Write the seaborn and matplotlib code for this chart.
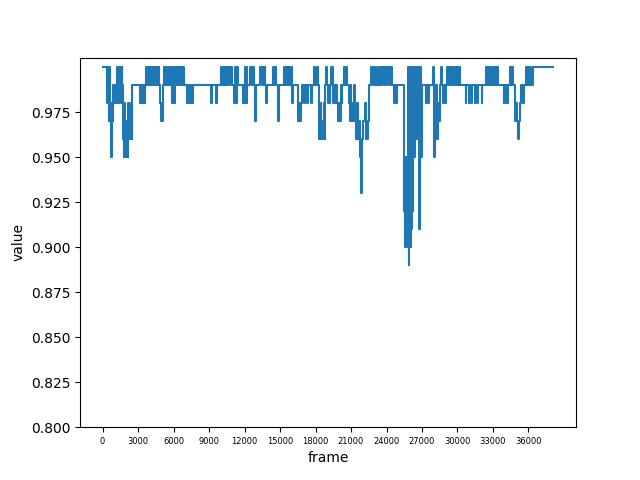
import matplotlib
matplotlib.use("Agg")
import matplotlib.pyplot as plt
import pandas as pd
import seaborn as sns

# change points of the score (step series)
frame = [
    0, 340, 380, 420, 460, 520, 580, 620, 680, 740, 800, 860, 900,
    950, 1010, 1070, 1130, 1190, 1250, 1310, 1370, 1430, 1490, 1550, 1610, 1670,
    1700, 1740, 1790, 1850, 1900, 1950, 2010, 2060, 2120, 2180, 2230, 2290, 2350, 2410, 2470, 2520,
    3200, 3260, 3320, 3380, 3440, 3500, 3560, 3620,
    3660, 3720, 3780, 3840, 3900, 3960, 4020, 4080, 4140, 4200, 4260, 4320, 4380, 4440, 4500, 4560, 4620, 4680, 4740, 4800,
    4880, 4920, 5000, 5060, 5120,
    5200, 5300, 5400, 5480, 5600, 5700, 5800, 5900, 5960, 6040, 6100, 6200, 6280, 6380, 6460, 6560, 6640, 6740, 6820, 6900,
    7150, 7220, 7290, 7360, 7430, 7500, 7560, 7620,
    9150, 9250, 9550, 9650,
    10000, 10080, 10160, 10240, 10320, 10400, 10480, 10560, 10640, 10720, 10800, 10900,
    11150, 11230, 11310, 11390, 11470,
    11830, 11900, 11960, 12030, 12100, 12170, 12250,
    12500, 12600, 12700, 12800, 12900, 12970,
    13350, 13450, 13550, 13650, 13700, 13770, 13850, 13930,
    14370, 14450, 14530, 14620, 14800, 14900,
    15300, 15380, 15460, 15540, 15620, 15700, 15780, 15860, 15940, 16020, 16100,
    16480, 16560, 16640, 16720, 16800, 16880,
    17050, 17130, 17250, 17330, 17600, 17700,
    17850, 17930, 18150, 18230,
    18300, 18380, 18460, 18540, 18620, 18700, 18780, 18840, 18880, 18960,
    19020, 19100, 19180, 19260, 19350, 19450, 19540, 19620, 19700, 19780, 19880, 19960, 20040, 20120, 20200, 20280,
    20400, 20500, 20600, 20700,
    20800, 20880, 20960, 21040, 21120, 21200, 21280, 21360, 21440, 21520, 21600,
    21700, 21800, 21880, 21960, 22040, 22150, 22300, 22400, 22480, 22560,
    22700, 22820, 22940, 23060, 23180, 23300, 23420, 23540, 23660, 23780, 23900, 24020, 24140, 24260, 24380, 24500,
    24600, 24700, 24780, 24860,
    25440, 25500, 25560, 25620, 25680, 25740, 25800, 25860, 25920, 25980, 26040,
    26100, 26160, 26220, 26280, 26340, 26400, 26460, 26520, 26580, 26640,
    26720, 26800, 26880, 26960,
    27300, 27380, 27480, 27560,
    27900, 27980, 28040, 28120, 28180, 28240, 28300, 28360, 28420, 28500, 28560,
    28600, 28680, 28780, 28860, 28940, 29020,
    29150, 29250, 29350, 29450, 29550, 29650, 29750, 29850, 29950, 30050, 30150, 30250,
    30680, 30760, 30930, 31010, 31180, 31260, 31440, 31520, 31690, 31770, 32030, 32110,
    32370, 32470, 32570, 32670, 32770, 32870, 32970, 33070, 33170, 33270, 33370, 33460,
    33890, 33970, 34050, 34130, 34230, 34310,
    34400, 34480, 34560, 34650,
    34900, 34980, 35060, 35140, 35220, 35300, 35400, 35500, 35600,
    35750, 35850, 35950, 36050, 36150, 36250, 36350,
    38110,
]
value = [
    1.00, 0.99, 0.98, 1.00, 0.98, 0.97, 1.00, 0.98, 0.97, 0.95, 0.98, 0.97, 0.99,
    0.98, 0.99, 0.98, 0.99, 0.98, 1.00, 0.98, 1.00, 0.99, 1.00, 0.98, 1.00, 0.99,
    0.97, 0.96, 0.95, 0.98, 0.96, 0.95, 0.97, 0.96, 0.95, 0.98, 0.96, 0.97, 0.96, 0.98, 0.96, 0.99,
    0.98, 0.99, 0.98, 0.99, 0.98, 0.99, 0.98, 0.99,
    1.00, 0.99, 1.00, 0.99, 1.00, 0.99, 1.00, 0.99, 1.00, 0.99, 1.00, 0.99, 1.00, 0.99, 1.00, 0.99, 1.00, 0.99, 1.00, 0.99,
    0.98, 0.97, 0.98, 0.97, 0.99,
    1.00, 0.99, 1.00, 0.99, 1.00, 0.99, 1.00, 0.98, 1.00, 0.98, 1.00, 0.99, 1.00, 0.99, 1.00, 0.99, 1.00, 0.99, 1.00, 0.99,
    0.98, 0.99, 0.98, 0.99, 0.98, 0.99, 0.98, 0.99,
    0.98, 0.99, 0.98, 0.99,
    1.00, 0.99, 1.00, 0.99, 1.00, 0.99, 1.00, 0.99, 1.00, 0.99, 1.00, 0.99,
    0.98, 1.00, 0.98, 1.00, 0.99,
    0.98, 0.99, 0.98, 1.00, 0.98, 1.00, 0.99,
    1.00, 0.99, 1.00, 0.99, 0.97, 0.99,
    1.00, 0.99, 1.00, 0.99, 1.00, 0.99, 0.98, 0.99,
    1.00, 0.99, 1.00, 0.99, 0.97, 0.99,
    1.00, 0.99, 1.00, 0.99, 1.00, 0.99, 1.00, 0.99, 1.00, 0.98, 0.99,
    0.98, 0.97, 0.98, 0.97, 0.98, 0.99,
    0.98, 0.99, 0.98, 0.99, 0.98, 0.99,
    1.00, 0.99, 1.00, 0.99,
    0.96, 0.98, 0.96, 0.97, 0.96, 0.98, 0.96, 0.99, 1.00, 0.99,
    0.98, 0.99, 0.98, 0.99, 1.00, 0.98, 0.99, 0.98, 0.99, 0.98, 0.97, 0.98, 0.97, 0.99, 0.98, 0.99,
    1.00, 0.99, 1.00, 0.99,
    0.98, 0.97, 0.99, 0.97, 0.98, 0.97, 0.99, 0.97, 0.96, 0.98, 0.96,
    0.97, 0.95, 0.93, 0.96, 0.97, 0.98, 0.96, 0.97, 0.98, 0.99,
    1.00, 0.99, 1.00, 0.99, 1.00, 0.99, 1.00, 0.99, 1.00, 0.99, 1.00, 0.99, 1.00, 0.99, 1.00, 0.99,
    0.98, 0.99, 0.98, 0.99,
    0.97, 0.92, 0.90, 0.95, 0.90, 0.93, 1.00, 0.89, 1.00, 0.90, 1.00,
    0.91, 1.00, 0.92, 1.00, 0.95, 1.00, 0.97, 1.00, 0.96, 1.00,
    0.91, 1.00, 0.95, 0.99,
    0.98, 0.99, 0.98, 0.99,
    1.00, 0.99, 0.95, 0.97, 0.99, 0.97, 0.96, 0.98, 0.97, 0.98, 0.99,
    1.00, 0.99, 0.98, 0.99, 0.98, 0.99,
    1.00, 0.99, 1.00, 0.99, 1.00, 0.99, 1.00, 0.99, 1.00, 0.99, 1.00, 0.99,
    0.98, 0.99, 0.98, 0.99, 0.98, 0.99, 0.98, 0.99, 0.98, 0.99, 0.98, 0.99,
    1.00, 0.99, 1.00, 0.99, 1.00, 0.99, 1.00, 0.99, 1.00, 0.99, 1.00, 0.99,
    0.98, 0.99, 0.98, 0.99, 0.98, 0.99,
    1.00, 0.99, 1.00, 0.99,
    0.97, 0.98, 0.97, 0.96, 0.97, 0.98, 0.99, 0.98, 0.99,
    1.00, 0.99, 1.00, 0.99, 1.00, 0.99, 1.00,
    1.00,
]
xtick_pos = list(range(0, 36001, 3000))
ytick_pos = [0.800, 0.825, 0.850, 0.875, 0.900, 0.925, 0.950, 0.975]

df = pd.DataFrame({"frame": frame, "value": value})

fig, ax = plt.subplots(figsize=(6.4, 4.8), dpi=100)
sns.lineplot(data=df, x="frame", y="value", estimator=None,
             drawstyle="steps-post", color="#1f77b4", linewidth=1.5, ax=ax)
ax.set_ylim(bottom=0.8)
ax.set_yticks(ytick_pos)
ax.set_yticklabels([f"{t:.3f}" for t in ytick_pos])
ax.set_xticks(xtick_pos)
ax.set_xticklabels([str(t) for t in xtick_pos], fontsize=6)
ax.set_xlabel("frame")
ax.set_ylabel("value")

plt.savefig("out.png", dpi=100)
